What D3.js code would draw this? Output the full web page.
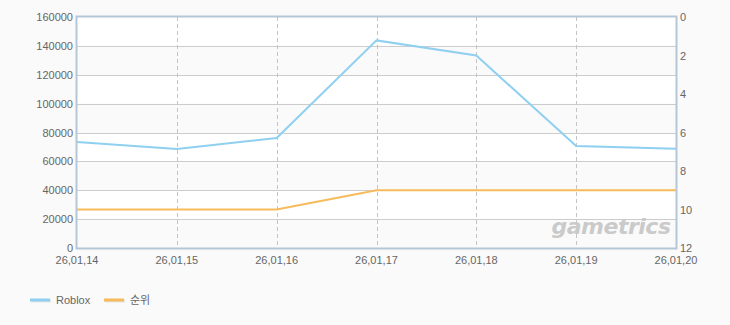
<!DOCTYPE html>
<html>
<head>
<meta charset="utf-8">
<script src="https://cdn.jsdelivr.net/npm/d3@7"></script>
<style>
  html, body { margin: 0; padding: 0; background: #fafafa; }
  svg { display: block; }
  text { font-family: "Liberation Sans", "Noto Sans CJK KR", sans-serif; }
</style>
</head>
<body>
<div id="chart"></div>
<script>
var dates = ["26,01,14", "26,01,15", "26,01,16", "26,01,17", "26,01,18", "26,01,19", "26,01,20"];
var roblox = [73500, 68600, 76200, 143800, 133300, 70700, 68700];
var rank = [10, 10, 10, 9, 9, 9, 9];
var leftTicks = [0, 20000, 40000, 60000, 80000, 100000, 120000, 140000, 160000];
var rightTicks = [0, 2, 4, 6, 8, 10, 12];
var seriesNames = ["Roblox", "순위"];
var seriesColors = ["#8fd0f0", "#f7bb5b"];

var w = 730,
    h = 325;
var pLeft = 77, pRight = 676, pTop = 17, pBottom = 248;

var svg = d3.select("#chart").append("svg")
    .attr("width", w)
    .attr("height", h);

var x = d3.scalePoint()
    .domain(dates)
    .range([pLeft, pRight]);

var y = d3.scaleLinear()
    .domain([0, 160000])
    .range([pBottom, pTop]);

var yRank = d3.scaleLinear()
    .domain([0, 12])
    .range([pTop, pBottom]);

// alternating bands
for (var i = 0; i < leftTicks.length - 1; i++) {
    svg.append("rect")
        .attr("x", pLeft)
        .attr("y", y(leftTicks[i + 1]))
        .attr("width", pRight - pLeft)
        .attr("height", y(leftTicks[i]) - y(leftTicks[i + 1]))
        .style("fill", i % 2 === 0 ? "#fafafa" : "#ffffff");
}

// horizontal grid
svg.selectAll(".hgrid")
    .data(leftTicks.slice(1, -1))
    .enter()
    .append("line")
    .attr("x1", pLeft)
    .attr("x2", pRight)
    .attr("y1", function (d) { return Math.round(y(d)) + 0.5; })
    .attr("y2", function (d) { return Math.round(y(d)) + 0.5; })
    .style("stroke", "#cccccc")
    .style("stroke-width", 1);

// vertical dashed grid
svg.selectAll(".vgrid")
    .data(dates.slice(1, -1))
    .enter()
    .append("line")
    .attr("x1", function (d) { return Math.round(x(d)) + 0.5; })
    .attr("x2", function (d) { return Math.round(x(d)) + 0.5; })
    .attr("y1", pTop)
    .attr("y2", pBottom)
    .style("stroke", "#c4c4c4")
    .style("stroke-dasharray", "4,3");

// watermark
svg.append("text")
    .attr("x", 611)
    .attr("y", 234)
    .attr("text-anchor", "middle")
    .style("font-family", "'DejaVu Sans', sans-serif")
    .style("font-size", "22px")
    .style("font-style", "italic")
    .style("font-weight", "bold")
    .style("letter-spacing", "-0.5px")
    .style("fill", "#cacaca")
    .text("gametrics");

// frame
svg.append("rect")
    .attr("x", pLeft - 0.5)
    .attr("y", pTop - 0.5)
    .attr("width", pRight - pLeft + 1)
    .attr("height", pBottom - pTop + 1)
    .style("fill", "none")
    .style("stroke", "#b5c6d8")
    .style("stroke-width", 2);

// series lines
var line = d3.line()
    .x(function (d, i) { return x(dates[i]); })
    .y(function (d) { return y(d); });

var rankLine = d3.line()
    .x(function (d, i) { return x(dates[i]); })
    .y(function (d) { return yRank(d); });

svg.append("path")
    .attr("d", rankLine(rank))
    .style("fill", "none")
    .style("stroke", seriesColors[1])
    .style("stroke-width", 2);

svg.append("path")
    .attr("d", line(roblox))
    .style("fill", "none")
    .style("stroke", seriesColors[0])
    .style("stroke-width", 2);

// left axis labels
svg.selectAll(".ltick")
    .data(leftTicks)
    .enter()
    .append("text")
    .attr("x", pLeft - 4)
    .attr("y", function (d) { return y(d) + 4; })
    .attr("text-anchor", "end")
    .style("font-size", "11px")
    .style("fill", "#666")
    .text(function (d) { return d; });

// right axis labels
svg.selectAll(".rtick")
    .data(rightTicks)
    .enter()
    .append("text")
    .attr("x", pRight + 4)
    .attr("y", function (d) { return yRank(d) + 4; })
    .attr("text-anchor", "start")
    .style("font-size", "11px")
    .style("fill", "#666")
    .text(function (d) { return d; });

// x axis labels
svg.selectAll(".xtick")
    .data(dates)
    .enter()
    .append("text")
    .attr("x", function (d) { return x(d); })
    .attr("y", pBottom + 16)
    .attr("text-anchor", "middle")
    .style("font-size", "11px")
    .style("fill", "#666")
    .text(function (d) { return d; });

// legend
var legendX = [30, 104];
seriesNames.forEach(function (name, i) {
    svg.append("line")
        .attr("x1", legendX[i] + 1)
        .attr("x2", legendX[i] + 21)
        .attr("y1", 301)
        .attr("y2", 301)
        .style("stroke", "#e6e6e6")
        .style("stroke-width", 3);
    svg.append("line")
        .attr("x1", legendX[i])
        .attr("x2", legendX[i] + 20)
        .attr("y1", 300)
        .attr("y2", 300)
        .style("stroke", seriesColors[i])
        .style("stroke-width", 3);
    svg.append("text")
        .attr("x", legendX[i] + 26)
        .attr("y", 304)
        .style("font-size", "11px")
        .style("fill", "#666")
        .text(name);
});
</script>
</body>
</html>
